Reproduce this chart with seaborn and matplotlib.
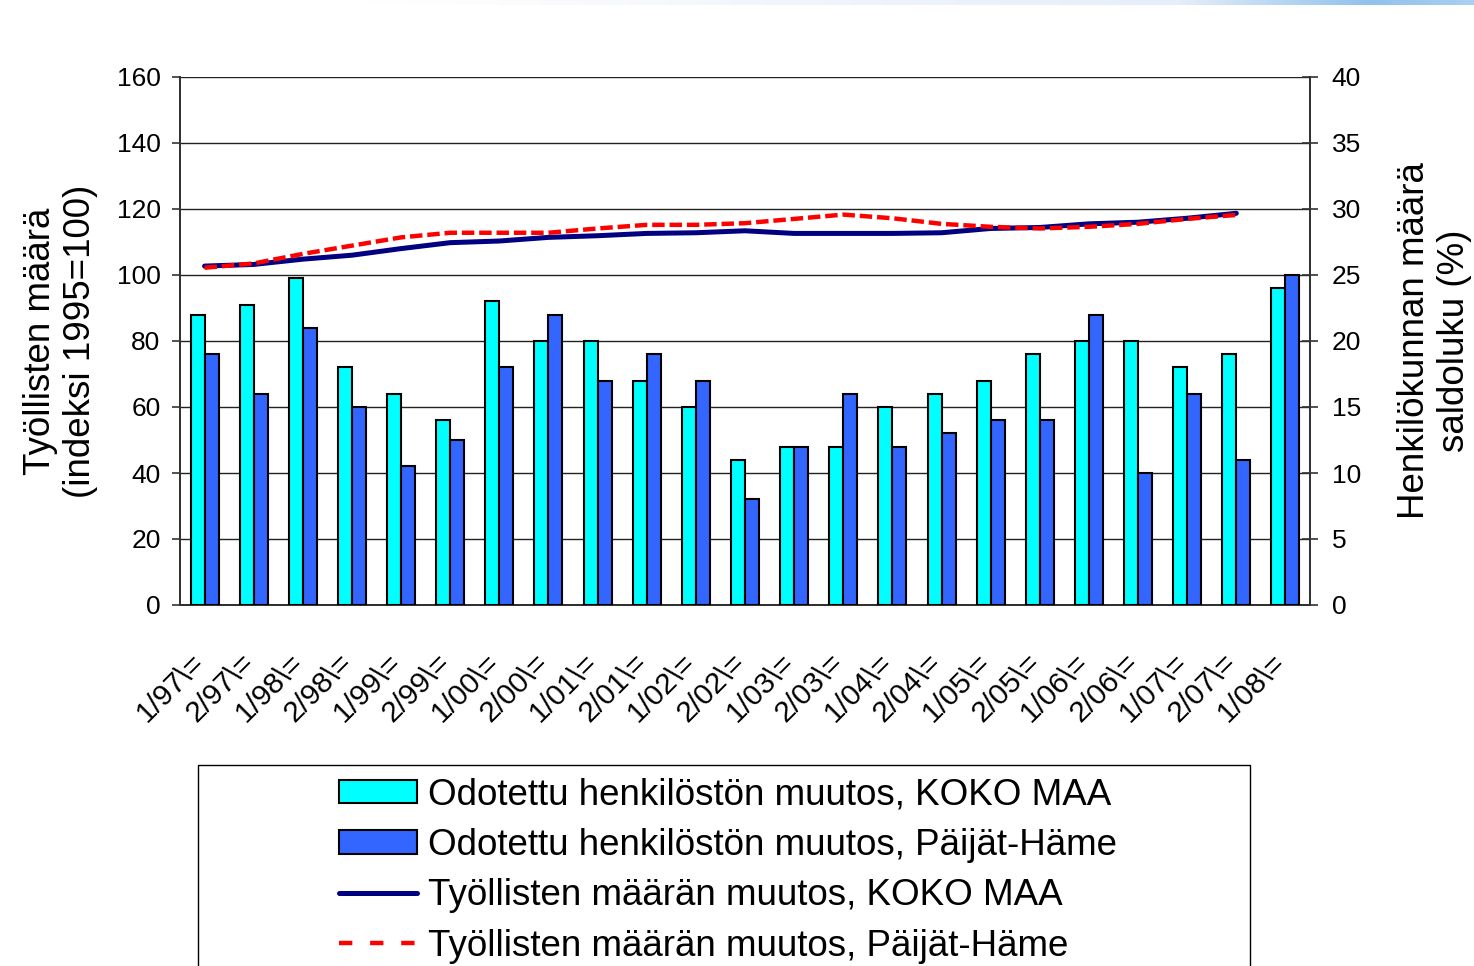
import numpy as np
import pandas as pd
import matplotlib
matplotlib.use("Agg")
import matplotlib.pyplot as plt
import matplotlib.transforms as mtransforms
from matplotlib.patches import Patch, Rectangle
from matplotlib.lines import Line2D
import seaborn as sns

# -------------------------------
# Data
# -------------------------------
periods = ["1/97", "2/97", "1/98", "2/98", "1/99", "2/99", "1/00", "2/00",
           "1/01", "2/01", "1/02", "2/02", "1/03", "2/03", "1/04", "2/04",
           "1/05", "2/05", "1/06", "2/06", "1/07", "2/07", "1/08"]
tick_labels = [p + "\\=" for p in periods]

# expected change in staff, balance figure (%) -> right axis
bars_koko = [22, 22.7, 24.8, 18, 16, 14, 23, 20, 20, 17, 15, 11,
             12, 12, 15, 16, 17, 19, 20, 20, 18, 19, 24]
bars_ph = [19, 16, 21, 15, 10.5, 12.5, 18, 22, 17, 19, 17, 8,
           12, 16, 12, 13, 14, 14, 22, 10, 16, 11, 25]

# employed persons, index 1995=100 -> left axis (no value for 1/08)
line_koko = [102.7, 103.2, 104.8, 106.0, 108.0, 109.8, 110.3, 111.4,
             111.9, 112.6, 112.8, 113.4, 112.6, 112.6, 112.6, 112.8,
             114.1, 114.4, 115.5, 116.0, 117.2, 118.7]
line_ph = [102.2, 103.5, 106.4, 108.9, 111.4, 112.8, 112.8, 112.8,
           114.1, 115.2, 115.2, 115.7, 117.0, 118.3, 117.2, 115.5,
           114.6, 114.1, 114.6, 115.5, 117.0, 118.2]

bar_names = ["Odotettu henkilöstön muutos, KOKO MAA",
             "Odotettu henkilöstön muutos, Päijät-Häme"]
line_names = ["Työllisten määrän muutos, KOKO MAA",
              "Työllisten määrän muutos, Päijät-Häme"]

bar_colors = ["#00FFFF", "#3366FF"]
navy = "#000080"
red = "#FF0000"
red_dash = (0, (2.8, 1.1))

# -------------------------------
# Style
# -------------------------------
sns.set_theme(style="white")
plt.rcParams["font.family"] = ["Liberation Sans", "DejaVu Sans"]
plt.rcParams["text.color"] = "black"
plt.rcParams["axes.labelcolor"] = "black"
plt.rcParams["xtick.color"] = "black"
plt.rcParams["ytick.color"] = "black"

fig = plt.figure(figsize=(14.74, 9.66), dpi=100)
fig.patch.set_facecolor("white")
ax1 = fig.add_axes([180 / 1474, 1 - 605 / 966, 1130 / 1474, 528 / 966])
ax2 = ax1.twinx()

# -------------------------------
# Bars (right axis)
# -------------------------------
n = len(periods)
bars = pd.DataFrame({
    "period": periods * 2,
    "series": [bar_names[0]] * n + [bar_names[1]] * n,
    "value": bars_koko + bars_ph,
})
sns.barplot(data=bars, x="period", y="value", hue="series",
            hue_order=bar_names, palette=bar_colors, saturation=1,
            width=0.57, gap=0, edgecolor="black", linewidth=1.5,
            legend=False, ax=ax2, zorder=3)

# -------------------------------
# Lines (left axis)
# -------------------------------
sns.lineplot(x=np.arange(len(line_koko)), y=line_koko, ax=ax1,
             color=navy, linewidth=3.6, legend=False, zorder=4)
sns.lineplot(x=np.arange(len(line_ph)), y=line_ph, ax=ax1,
             color=red, linewidth=3.2, linestyle=red_dash,
             dash_capstyle="butt", legend=False, zorder=5)

# -------------------------------
# Axes formatting
# -------------------------------
ax1.set_ylim(0, 160)
ax1.set_yticks(np.arange(0, 161, 20))
ax2.set_ylim(0, 40)
ax2.set_yticks(np.arange(0, 41, 5))
ax1.set_xlim(-0.5, n - 0.5)

ax1.yaxis.grid(True, color="#222222", linewidth=1.0)
ax1.xaxis.grid(False)
ax2.grid(False)
ax1.set_axisbelow(True)

for ax in (ax1, ax2):
    for s in ax.spines.values():
        s.set_color("#333333")
        s.set_linewidth(1.4)
    ax.spines["top"].set_visible(False)
ax1.spines["bottom"].set_color("black")

ax1.set_xticks(np.arange(n + 1) - 0.5)
ax1.set_xticklabels([])
ax1.set_xticks(np.arange(n), minor=True)
ax1.set_xticklabels(tick_labels, minor=True, rotation=45, ha="right",
                    va="top", rotation_mode="anchor", fontsize=21.5)
ax1.tick_params(axis="x", which="major", direction="out", length=7,
                width=1.2, color="#333333")
ax1.tick_params(axis="x", which="minor", length=0, pad=0)
ax1.tick_params(axis="y", which="major", direction="out", length=6,
                width=1.2, color="#333333", pad=8, labelsize=19)
ax2.tick_params(axis="y", which="major", direction="inout", length=11,
                width=1.2, color="#333333", pad=10, labelsize=19)

shift = mtransforms.ScaledTranslation(-14 / 100, -43 / 100, fig.dpi_scale_trans)
for lbl in ax1.get_xticklabels(minor=True):
    lbl.set_transform(lbl.get_transform() + shift)

ax1.set_xlabel("")
ax2.set_xlabel("")
ax1.set_ylabel("Työllisten määrä\n(indeksi 1995=100)", fontsize=26.5,
               labelpad=13)
ax2.set_ylabel("Henkilökunnan määrä\nsaldoluku (%)", fontsize=26.5,
               labelpad=26, rotation=90)

# -------------------------------
# Legend with its own frame
# -------------------------------
handles = [
    Patch(facecolor=bar_colors[0], edgecolor="black", linewidth=1.5),
    Patch(facecolor=bar_colors[1], edgecolor="black", linewidth=1.5),
    Line2D([], [], color=navy, linewidth=3.6),
    Line2D([], [], color=red, linewidth=3.2, linestyle=(0, (3.0, 4.0)),
           dash_capstyle="butt"),
]
fig.legend(handles, bar_names + line_names, loc="upper left",
           bbox_to_anchor=(321 / 1474, 1 - 759 / 966), frameon=False,
           borderpad=0, fontsize=26.5, handlelength=2.1,
           handleheight=0.6, handletextpad=0.3, labelspacing=0.42)
fig.patches.append(Rectangle((198 / 1474, -0.02), (1250 - 198) / 1474,
                             0.02 + 1 - 765 / 966, transform=fig.transFigure,
                             fill=False, edgecolor="black", linewidth=1.0))

# faint gradient band along the top edge
band = fig.add_axes([0, 1 - 5 / 966, 1, 5 / 966])
grad = np.linspace(0, 1, 512)
cmap = matplotlib.colors.LinearSegmentedColormap.from_list(
    "band", [(0, "#ffffff"), (0.25, "#ffffff"), (0.6, "#eef3fb"),
             (0.8, "#e6eef9"), (0.93, "#90c2ec"), (1, "#aacff1")])
band.imshow(grad[None, :], aspect="auto", cmap=cmap)
band.set_axis_off()

fig.savefig("out.png", dpi=100)
